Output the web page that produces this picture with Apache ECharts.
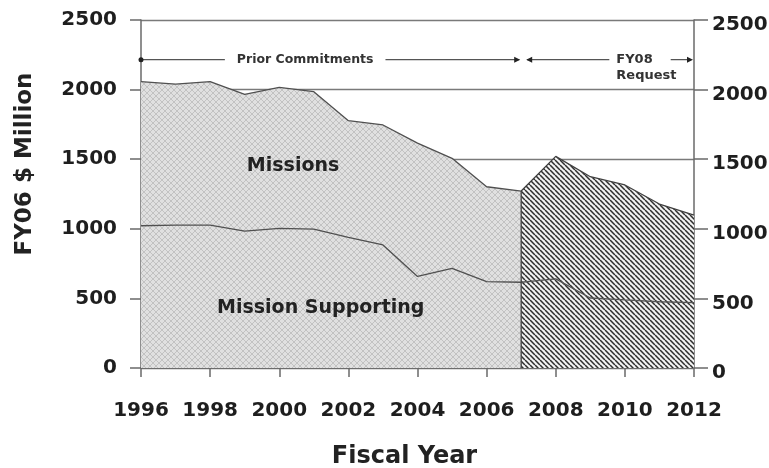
<!DOCTYPE html>
<html><head><meta charset="utf-8">
<script src="https://cdn.jsdelivr.net/npm/echarts@6/dist/echarts.min.js"></script>
<style>html,body{margin:0;padding:0;background:#fff}#c{width:769px;height:468px}</style>
</head><body><div id="c"></div>
<script>
// ---- data ----
const years = [1996,1997,1998,1999,2000,2001,2002,2003,2004,2005,2006,2007,2008,2009,2010,2011,2012];
const missionsTotal = [2057,2040,2057,1966,2016,1985,1777,1746,1615,1506,1302,1271,1520,1374,1315,1178,1099];
const missionSupporting = [1022,1027,1027,984,1003,998,939,884,658,716,620,616,640,503,489,476,469];
const requestStartYear = 2007;
const xTicks = [1996,1998,2000,2002,2004,2006,2008,2010,2012];
const yTicks = [0,500,1000,1500,2000,2500];
const annotationLevel = 2215;

// ---- patterns ----
function crossPattern(){
  const s = 6, c = document.createElement('canvas'); c.width = s; c.height = s;
  const g = c.getContext('2d');
  g.fillStyle = '#e0e0e0'; g.fillRect(0,0,s,s);
  g.strokeStyle = '#c2c2c2'; g.lineWidth = 1;
  g.beginPath();
  for (const k of [-s,0,s]) { g.moveTo(0,k); g.lineTo(s,s+k); g.moveTo(0,s+k); g.lineTo(s,k); }
  g.stroke();
  return c;
}
function hatchPattern(){
  const s = 5, c = document.createElement('canvas'); c.width = s; c.height = s;
  const g = c.getContext('2d');
  g.fillStyle = '#f2f2f2'; g.fillRect(0,0,s,s);
  g.strokeStyle = '#2e2e2e'; g.lineWidth = 1.5;
  g.beginPath();
  for (const k of [-s,0,s]) { g.moveTo(0,k); g.lineTo(s,s+k); }
  g.stroke();
  return c;
}

const pairs = (arr, cond) => years.map((y,i)=>[y,arr[i]]).filter(p=>cond(p[0]));
const prior = y => y <= requestStartYear;
const request = y => y >= requestStartYear;
const startIdx = years.indexOf(requestStartYear);

const FONT = '"DejaVu Sans", sans-serif';
const chart = echarts.init(document.getElementById('c'), null, {renderer:'canvas'});
const axisLineStyle = {color:'#6a6a6a', width:1.5};
const fmt = v => String(v);

chart.setOption({
  animation:false,
  backgroundColor:'#fff',
  grid:{left:141, right:75, top:20, bottom:100, containLabel:false, outerBoundsMode:'none'},
  xAxis:{
    type:'value', min:xTicks[0], max:xTicks[xTicks.length-1], interval:xTicks[1]-xTicks[0],
    axisLine:{show:true, lineStyle:axisLineStyle},
    axisTick:{show:true, inside:false, length:9, lineStyle:axisLineStyle},
    splitLine:{show:false},
    axisLabel:{margin:33, formatter:fmt, color:'#1e1e1e', fontFamily:FONT, fontWeight:'bold', fontSize:20},
    name:'Fiscal Year', nameLocation:'middle', nameGap:77,
    nameTextStyle:{color:'#222', fontFamily:FONT, fontWeight:'bold', fontSize:24, padding:[0,26,0,0]}
  },
  yAxis:[{
    type:'value', min:yTicks[0], max:yTicks[yTicks.length-1], interval:yTicks[1]-yTicks[0],
    position:'left',
    axisLine:{show:true, lineStyle:axisLineStyle},
    axisTick:{show:true, inside:false, length:11, lineStyle:axisLineStyle},
    splitLine:{show:true, lineStyle:{color:'#7a7a7a', width:1.4}},
    axisLabel:{margin:24, formatter:fmt, color:'#1e1e1e', fontFamily:FONT, fontWeight:'bold', fontSize:20},
    name:'FY06 $ Million', nameLocation:'middle', nameGap:104,
    nameTextStyle:{color:'#222', fontFamily:FONT, fontWeight:'bold', fontSize:23, padding:[0,0,0,60]}
  },{
    type:'value', min:yTicks[0], max:yTicks[yTicks.length-1], interval:yTicks[1]-yTicks[0],
    position:'right',
    axisLine:{show:true, lineStyle:axisLineStyle},
    axisTick:{show:true, inside:false, length:14, lineStyle:axisLineStyle},
    splitLine:{show:false},
    axisLabel:{margin:18, formatter:v => '{a|' + v + '}',
      rich:{a:{padding:[10,0,0,0], color:'#1e1e1e', fontFamily:FONT, fontWeight:'bold', fontSize:20}},
      color:'#1e1e1e', fontFamily:FONT, fontWeight:'bold', fontSize:20}
  }],
  series:[
    {name:'Missions', type:'line', data:pairs(missionsTotal, prior), symbol:'none', z:2,
     lineStyle:{color:'#505050', width:1.3}, areaStyle:{color:{image:crossPattern(), repeat:'repeat'}, opacity:1}},
    {name:'Mission Supporting', type:'line', data:pairs(missionSupporting, prior), symbol:'none', z:3,
     lineStyle:{color:'#505050', width:1.3}},
    {name:'FY08 Request', type:'line', data:pairs(missionsTotal, request), symbol:'none', z:2,
     lineStyle:{color:'#404040', width:1.3}, areaStyle:{color:{image:hatchPattern(), repeat:'repeat'}, opacity:1}},
    {name:'Request Supporting', type:'line', data:pairs(missionSupporting, request), symbol:'none', z:3,
     lineStyle:{color:'#555', width:1.3}},
    {name:'Request Edge', type:'line', data:[[requestStartYear,0],[requestStartYear,missionsTotal[startIdx]]], symbol:'none', z:3,
     lineStyle:{color:'#404040', width:1.3}}
  ]
});

const P = (x,y) => chart.convertToPixel({gridIndex:0},[x,y]);
const [x0, ya] = P(years[0], annotationLevel);
const [x1] = P(requestStartYear, annotationLevel);
const [x2] = P(years[years.length-1], annotationLevel);
const ls = {stroke:'#555', lineWidth:1.2};
const txt = (t, p, extra) => Object.assign({type:'text', z:100, style:Object.assign({text:t, x:p[0], y:p[1], align:'center', verticalAlign:'middle', fill:'#222', font:'bold 19px "DejaVu Sans", sans-serif'}, extra||{})});
const ptPrior = P(2000.75, annotationLevel);
const ptReq = P(2009.55, annotationLevel);
chart.setOption({graphic:[
  {type:'line', z:50, shape:{x1:x0,y1:ya,x2:x1-2,y2:ya}, style:ls},
  {type:'circle', z:51, shape:{cx:x0,cy:ya,r:2.5}, style:{fill:'#222'}},
  {type:'polygon', z:51, shape:{points:[[x1-1,ya],[x1-7,ya-3],[x1-7,ya+3]]}, style:{fill:'#222'}},
  {type:'polygon', z:51, shape:{points:[[x1+5,ya],[x1+11,ya-3],[x1+11,ya+3]]}, style:{fill:'#222'}},
  {type:'line', z:50, shape:{x1:x1+6,y1:ya,x2:x2-3,y2:ya}, style:ls},
  {type:'polygon', z:51, shape:{points:[[x2-1,ya],[x2-7,ya-3],[x2-7,ya+3]]}, style:{fill:'#222'}},
  txt('Prior Commitments', ptPrior, {font:'bold 12.5px "DejaVu Sans", sans-serif', fill:'#333', backgroundColor:'#fff', padding:[2,12]}),
  txt('FY08', ptReq, {align:'left', font:'bold 13px "DejaVu Sans", sans-serif', fill:'#333', backgroundColor:'#fff', padding:[1,18,1,7]}),
  txt('Request', [ptReq[0]+7, ptReq[1]+16], {align:'left', font:'bold 13px "DejaVu Sans", sans-serif', fill:'#333'}),
  txt('Missions', P(2000.4, 1451)),
  txt('Mission Supporting', P(2001.2, 431))
]});
</script>
</body></html>
